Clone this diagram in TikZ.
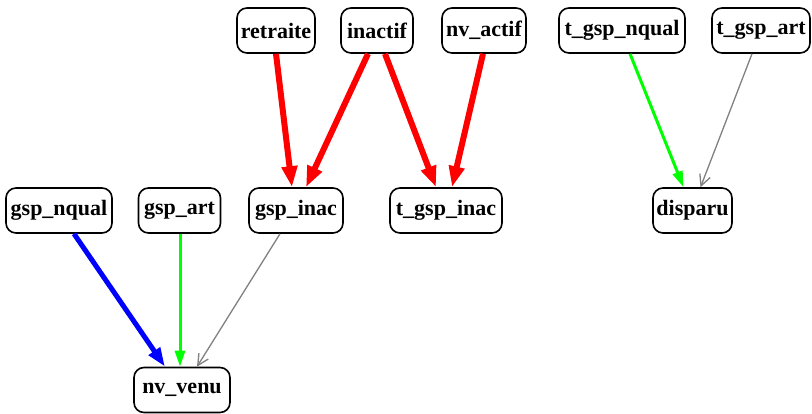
\documentclass[tikz,border=0pt]{standalone}
\usepackage{fontspec}
\setmainfont{Liberation Serif}
\usetikzlibrary{arrows.meta}
\definecolor{edgered}{RGB}{255,0,0}
\definecolor{edgegreen}{RGB}{0,255,0}
\definecolor{edgeblue}{RGB}{0,0,255}
\definecolor{edgegray}{RGB}{128,128,128}
\tikzset{
  state/.style={draw=black, line width=1.6pt, rounded corners=10pt, fill=white,
    minimum height=45pt, inner xsep=2pt, inner ysep=0pt,
    font=\fontsize{22}{22}\selectfont\bfseries},
  redflow/.style={draw=edgered, line width=6pt,
    -{Triangle[length=21pt,width=15pt]}},
  blueflow/.style={draw=edgeblue, line width=5pt,
    -{Triangle[length=19pt,width=13pt]}},
  greenflow/.style={draw=edgegreen, line width=3pt,
    -{Triangle[length=16pt,width=10pt]}},
  grayflow/.style={draw=edgegray, line width=1.3pt,
    -{Straight Barb[length=11pt,width=11pt]}},
}
\begin{document}
\begin{tikzpicture}[x=1pt,y=-1pt]
\useasboundingbox (0,0) rectangle (812,413);

% top row
\node[state, minimum width=78pt] (retraite) at (276,30.5) {retraite};
\node[state, minimum width=72pt] (inactif) at (377,30.5) {inactif};
\node[state, minimum width=84pt] (nvactif) at (484,30.5) {nv\_actif};
\node[state, minimum width=126pt] (tgspnqual) at (622,30.5) {t\_gsp\_nqual};
\node[state, minimum width=98pt] (tgspart) at (761,30.5) {t\_gsp\_art};

% middle row
\node[state, minimum width=106pt] (gspnqual) at (59,210.5) {gsp\_nqual};
\node[state, minimum width=82pt] (gspart) at (179.5,210.5) {gsp\_art};
\node[state, minimum width=94pt] (gspinac) at (296,210.5) {gsp\_inac};
\node[state, minimum width=112pt] (tgspinac) at (446,210.5) {t\_gsp\_inac};
\node[state, minimum width=79pt] (disparu) at (692.5,210.5) {disparu};

% bottom row
\node[state, minimum width=96pt] (nvvenu) at (182,390) {nv\_venu};

% flows into the middle row
\draw[redflow] (retraite.south) -- ([xshift=-4pt]gspinac.north);
\draw[redflow] ([xshift=-9pt]inactif.south) -- ([xshift=10pt]gspinac.north);
\draw[redflow] ([xshift=8pt]inactif.south) -- ([xshift=-10pt]tgspinac.north);
\draw[redflow] ([xshift=-1pt]nvactif.south) -- ([xshift=6pt]tgspinac.north);
\draw[greenflow] ([xshift=8pt]tgspnqual.south) -- ([xshift=-9pt]disparu.north);
\draw[grayflow] ([xshift=-9pt]tgspart.south) -- ([xshift=8pt]disparu.north);

% flows into nv_venu
\draw[blueflow] ([xshift=15pt]gspnqual.south) -- ([xshift=-17pt]nvvenu.north);
\draw[greenflow] ([xshift=0.5pt]gspart.south) -- ([xshift=-2pt]nvvenu.north);
\draw[grayflow] ([xshift=-16pt]gspinac.south) -- ([xshift=15pt]nvvenu.north);
\end{tikzpicture}
\end{document}
